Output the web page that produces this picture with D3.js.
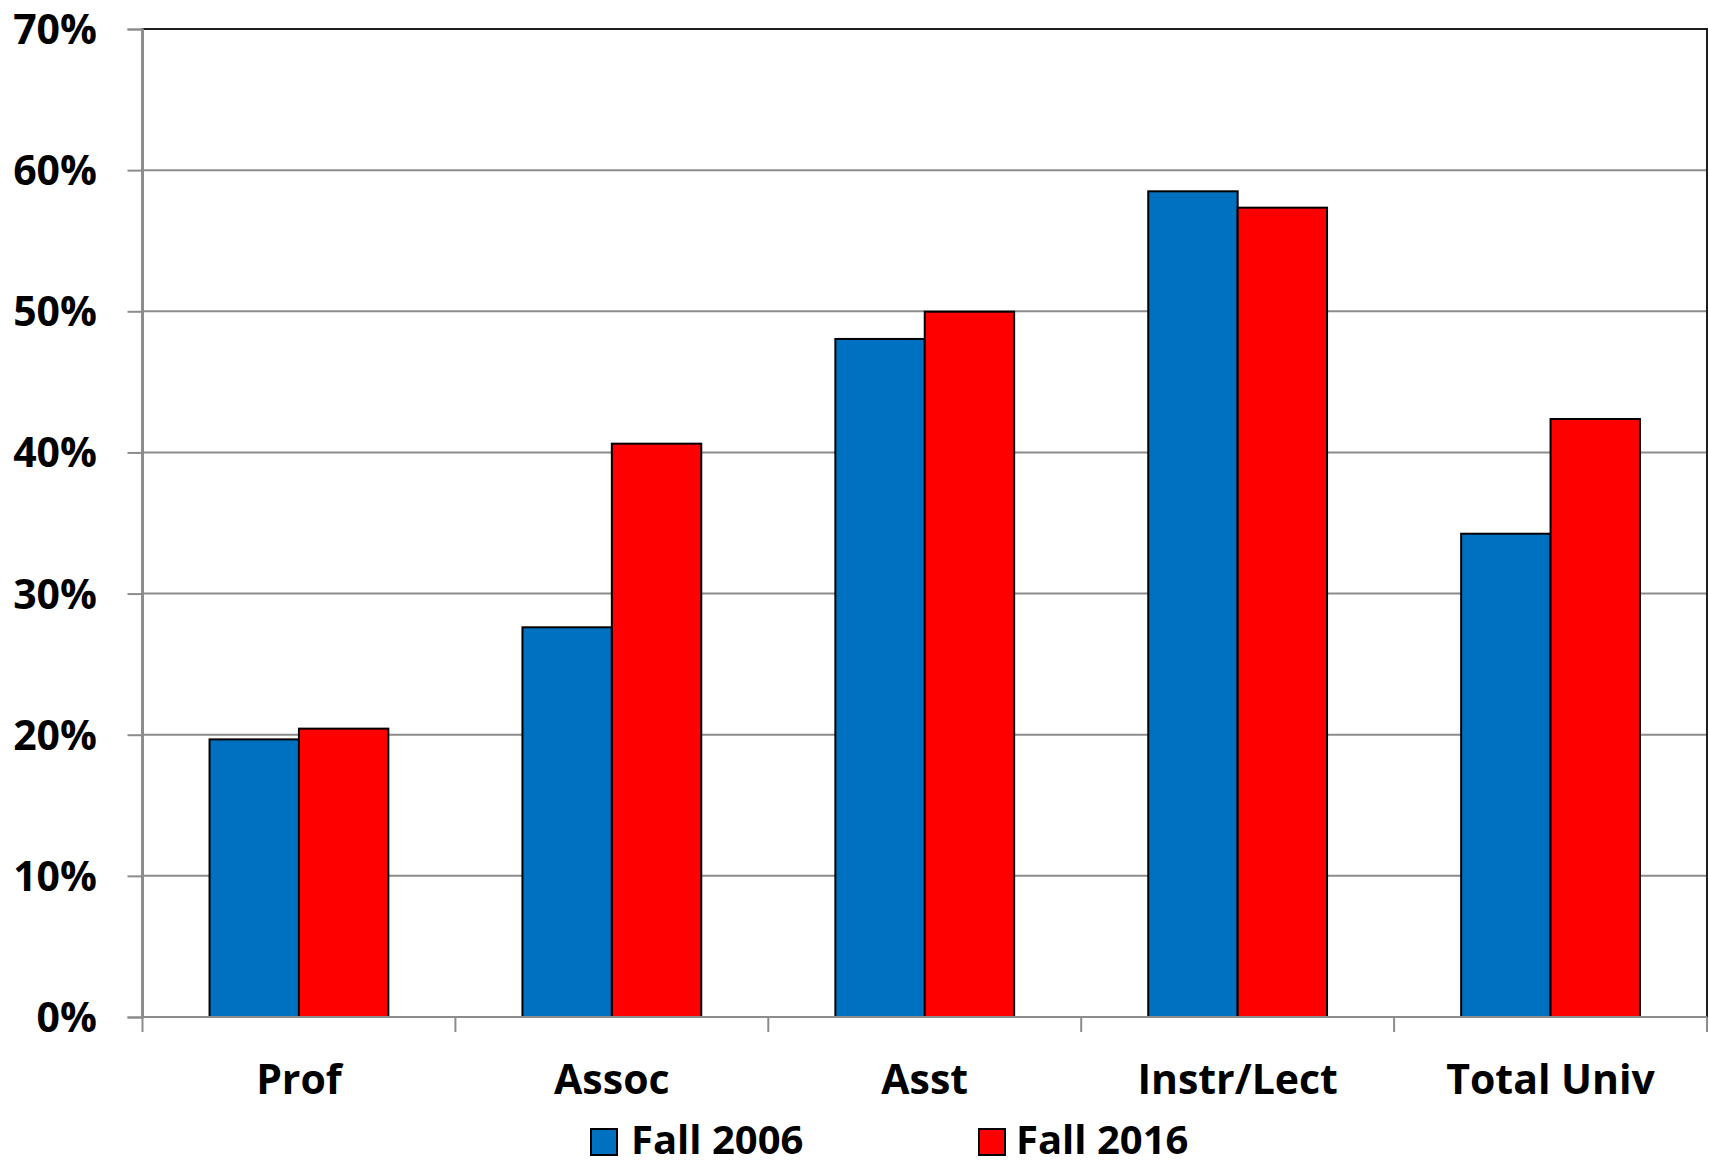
<!DOCTYPE html>
<html>
<head>
<meta charset="utf-8">
<script src="https://cdn.jsdelivr.net/npm/d3@7"></script>
<style>
  html, body { margin: 0; padding: 0; background: #fff; }
  svg { display: block; }
  text { font-family: "Open Sans", "Liberation Sans", sans-serif; font-weight: 700; fill: #000; }
</style>
</head>
<body>
<svg id="chart" width="1709" height="1165"></svg>
<script>
const categories = ["Prof", "Assoc", "Asst", "Instr/Lect", "Total Univ"];
const seriesNames = ["Fall 2006", "Fall 2016"];
const fall2006 = [0.1967, 0.2761, 0.4804, 0.5850, 0.3424];
const fall2016 = [0.2043, 0.4062, 0.4997, 0.5734, 0.4237];
const yTicks = [0, 0.1, 0.2, 0.3, 0.4, 0.5, 0.6, 0.7];
const colors = ["#0070C0", "#FF0000"];

(function () {
const seriesValues = [fall2006, fall2016];
const data = categories.map((c, i) => ({
  cat: c,
  vals: seriesNames.map((s, j) => ({ series: s, value: seriesValues[j][i], j }))
}));

const svg = d3.select("#chart");
const pLeft = 142.5, pRight = 1707, pTop = 29, pBottom = 1017;

const x0 = d3.scaleBand().domain(categories).range([pLeft, pRight]).paddingInner(0).paddingOuter(0);
const x1 = d3.scaleBand().domain(seriesNames).range([0, x0.bandwidth()]).paddingInner(0).paddingOuter(0.75);
const y = d3.scaleLinear().domain([0, 0.7]).range([pBottom, pTop]);

// gridlines
svg.append("g").selectAll("line").data(yTicks.filter(t => t > 0 && t < 0.7)).join("line")
  .attr("x1", pLeft).attr("x2", pRight)
  .attr("y1", d => y(d)).attr("y2", d => y(d))
  .attr("stroke", "#8c8c8c").attr("stroke-width", 2);

// plot border
svg.append("rect")
  .attr("x", pLeft).attr("y", y(0.7))
  .attr("width", pRight - pLeft).attr("height", y(0) - y(0.7))
  .attr("fill", "none").attr("stroke", "#1e1e1e").attr("stroke-width", 2);

// bars
const groups = svg.append("g").selectAll("g").data(data).join("g")
  .attr("transform", d => `translate(${x0(d.cat)},0)`);
groups.selectAll("rect").data(d => d.vals).join("rect")
  .attr("x", d => x1(d.series))
  .attr("y", d => y(d.value))
  .attr("width", x1.bandwidth())
  .attr("height", d => y(0) - y(d.value))
  .attr("fill", d => colors[d.j])
  .attr("stroke", "#000").attr("stroke-width", 2);

// y axis
const yAxis = d3.axisLeft(y).tickValues(yTicks).tickFormat(d3.format(".0%")).tickSize(15).tickPadding(0);
const gy = svg.append("g").attr("transform", `translate(${pLeft},0)`).call(yAxis);
gy.select(".domain").attr("stroke", "#8c8c8c").attr("stroke-width", 2);
gy.selectAll(".tick line").attr("stroke", "#8c8c8c").attr("stroke-width", 2);
gy.selectAll(".tick text")
  .attr("x", 97 - pLeft).attr("dy", null).attr("y", 14.5)
  .attr("text-anchor", "end")
  .style("font-size", "41px").style("font-family", "'Open Sans', sans-serif").style("font-weight", 700).attr("fill", "#000");

// x axis
const boundaries = categories.map(c => x0(c)).concat([pRight]);
const gx = svg.append("g");
gx.append("line").attr("x1", pLeft).attr("x2", pRight).attr("y1", pBottom).attr("y2", pBottom)
  .attr("stroke", "#8c8c8c").attr("stroke-width", 2);
gx.selectAll("line.tk").data(boundaries).join("line").attr("class", "tk")
  .attr("x1", d => d).attr("x2", d => d).attr("y1", pBottom).attr("y2", pBottom + 15)
  .attr("stroke", "#8c8c8c").attr("stroke-width", 2);
gx.selectAll("text").data(categories).join("text")
  .attr("x", d => x0(d) + x0.bandwidth() / 2)
  .attr("y", 1094)
  .attr("text-anchor", "middle")
  .style("font-size", "41px")
  .text(d => d);

// legend
const legendItems = [
  { name: seriesNames[0], color: colors[0], sx: 591, tx: 631 },
  { name: seriesNames[1], color: colors[1], sx: 979, tx: 1016 }
];
const lg = svg.append("g").selectAll("g").data(legendItems).join("g");
lg.append("rect")
  .attr("x", d => d.sx).attr("y", 1129).attr("width", 26).attr("height", 26)
  .attr("fill", d => d.color).attr("stroke", "#000").attr("stroke-width", 2);
lg.append("text")
  .attr("x", d => d.tx).attr("y", 1154)
  .style("font-size", "40px")
  .text(d => d.name);
})();
</script>
</body>
</html>
